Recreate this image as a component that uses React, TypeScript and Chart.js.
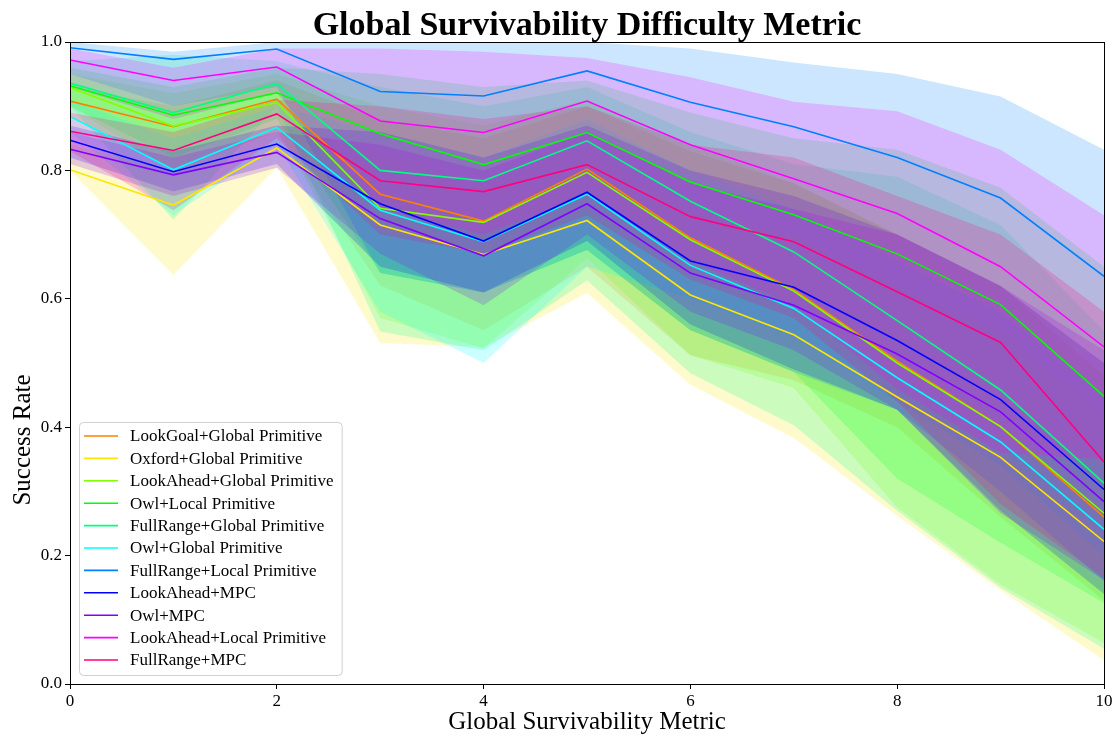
import { useEffect, useRef } from 'react';
import { Chart, registerables } from 'chart.js';

Chart.register(...registerables);

const chartTitle = 'Global Survivability Difficulty Metric';
const xAxisTitle = 'Global Survivability Metric';
const yAxisTitle = 'Success Rate';

const metricLevels = [0, 1, 2, 3, 4, 5, 6, 7, 8, 9, 10];

const methodNames = [
  'LookGoal+Global Primitive',
  'Oxford+Global Primitive',
  'LookAhead+Global Primitive',
  'Owl+Local Primitive',
  'FullRange+Global Primitive',
  'Owl+Global Primitive',
  'FullRange+Local Primitive',
  'LookAhead+MPC',
  'Owl+MPC',
  'LookAhead+Local Primitive',
  'FullRange+MPC',
];

const methodColors = [
  '#ff8000', '#ffe600', '#80ff00', '#00ff00', '#00ff80', '#00ffff',
  '#0080ff', '#0000ff', '#8000ff', '#ff00ff', '#ff0080',
];

// mean success rate and min / max envelope per method
const lookGoalGlobalMean = [0.908, 0.868, 0.911, 0.763, 0.721, 0.802, 0.695, 0.614, 0.503, 0.401, 0.260];
const lookGoalGlobalLow = [0.885, 0.800, 0.860, 0.621, 0.551, 0.650, 0.512, 0.473, 0.400, 0.260, 0.130];
const lookGoalGlobalHigh = [0.930, 0.900, 0.940, 0.880, 0.850, 0.900, 0.830, 0.780, 0.700, 0.620, 0.480];

const oxfordGlobalMean = [0.801, 0.746, 0.835, 0.715, 0.669, 0.722, 0.606, 0.544, 0.447, 0.353, 0.222];
const oxfordGlobalLow = [0.800, 0.637, 0.805, 0.531, 0.525, 0.609, 0.466, 0.383, 0.262, 0.146, 0.037];
const oxfordGlobalHigh = [0.840, 0.800, 0.870, 0.830, 0.780, 0.840, 0.740, 0.700, 0.620, 0.550, 0.420];

const lookAheadGlobalMean = [0.929, 0.869, 0.906, 0.741, 0.719, 0.797, 0.692, 0.612, 0.500, 0.401, 0.266];
const lookAheadGlobalLow = [0.900, 0.800, 0.870, 0.570, 0.523, 0.663, 0.512, 0.461, 0.275, 0.155, 0.064];
const lookAheadGlobalHigh = [0.950, 0.920, 0.950, 0.900, 0.870, 0.910, 0.840, 0.780, 0.700, 0.620, 0.500];

const owlLocalMean = [0.932, 0.886, 0.921, 0.857, 0.809, 0.859, 0.782, 0.731, 0.670, 0.591, 0.448];
const owlLocalLow = [0.900, 0.820, 0.880, 0.640, 0.610, 0.676, 0.551, 0.486, 0.320, 0.220, 0.126];
const owlLocalHigh = [0.960, 0.930, 0.960, 0.950, 0.930, 0.940, 0.890, 0.850, 0.832, 0.773, 0.650];

const fullRangeGlobalMean = [0.936, 0.890, 0.935, 0.800, 0.784, 0.846, 0.752, 0.673, 0.566, 0.458, 0.313];
const fullRangeGlobalLow = [0.900, 0.723, 0.900, 0.549, 0.520, 0.629, 0.484, 0.403, 0.270, 0.150, 0.055];
const fullRangeGlobalHigh = [0.970, 0.980, 0.970, 0.930, 0.900, 0.930, 0.860, 0.810, 0.790, 0.715, 0.550];

const owlGlobalMean = [0.884, 0.801, 0.867, 0.738, 0.689, 0.763, 0.652, 0.585, 0.477, 0.377, 0.241];
const owlGlobalLow = [0.860, 0.730, 0.840, 0.580, 0.500, 0.650, 0.600, 0.540, 0.440, 0.340, 0.200];
const owlGlobalHigh = [0.910, 0.850, 0.900, 0.860, 0.820, 0.880, 0.800, 0.740, 0.660, 0.580, 0.450];

const fullRangeLocalMean = [0.991, 0.973, 0.989, 0.923, 0.916, 0.955, 0.906, 0.868, 0.820, 0.757, 0.635];
const fullRangeLocalLow = [0.950, 0.900, 0.930, 0.640, 0.610, 0.676, 0.551, 0.486, 0.427, 0.300, 0.160];
const fullRangeLocalHigh = [1.000, 0.985, 1.000, 1.000, 1.000, 1.000, 0.990, 0.968, 0.950, 0.915, 0.832];

const lookAheadMpcMean = [0.847, 0.798, 0.841, 0.748, 0.690, 0.766, 0.659, 0.618, 0.535, 0.443, 0.303];
const lookAheadMpcLow = [0.820, 0.767, 0.810, 0.650, 0.610, 0.690, 0.560, 0.490, 0.427, 0.270, 0.140];
const lookAheadMpcHigh = [0.870, 0.830, 0.870, 0.860, 0.820, 0.870, 0.800, 0.760, 0.700, 0.620, 0.500];

const owlMpcMean = [0.833, 0.793, 0.828, 0.725, 0.667, 0.748, 0.640, 0.590, 0.514, 0.424, 0.284];
const owlMpcLow = [0.810, 0.760, 0.804, 0.670, 0.590, 0.700, 0.580, 0.520, 0.427, 0.266, 0.162];
const owlMpcHigh = [0.860, 0.820, 0.860, 0.840, 0.800, 0.860, 0.780, 0.740, 0.700, 0.620, 0.520];

const lookAheadLocalMean = [0.972, 0.940, 0.961, 0.877, 0.859, 0.908, 0.840, 0.787, 0.733, 0.650, 0.525];
const lookAheadLocalLow = [0.930, 0.880, 0.920, 0.740, 0.700, 0.760, 0.660, 0.590, 0.460, 0.360, 0.350];
const lookAheadLocalHigh = [0.990, 0.960, 0.990, 0.990, 0.985, 0.975, 0.945, 0.907, 0.892, 0.832, 0.730];

const fullRangeMpcMean = [0.861, 0.831, 0.888, 0.784, 0.767, 0.809, 0.728, 0.689, 0.611, 0.532, 0.346];
const fullRangeMpcLow = [0.830, 0.738, 0.850, 0.700, 0.670, 0.730, 0.630, 0.570, 0.440, 0.280, 0.165];
const fullRangeMpcHigh = [0.890, 0.860, 0.910, 0.900, 0.880, 0.900, 0.840, 0.820, 0.760, 0.700, 0.580];

const yTicks = [0, 0.2, 0.4, 0.6, 0.8, 1.0];
const xTicks = [0, 2, 4, 6, 8, 10];

const seriesMeans = [
  lookGoalGlobalMean, oxfordGlobalMean, lookAheadGlobalMean, owlLocalMean,
  fullRangeGlobalMean, owlGlobalMean, fullRangeLocalMean, lookAheadMpcMean,
  owlMpcMean, lookAheadLocalMean, fullRangeMpcMean,
];
const seriesLows = [
  lookGoalGlobalLow, oxfordGlobalLow, lookAheadGlobalLow, owlLocalLow,
  fullRangeGlobalLow, owlGlobalLow, fullRangeLocalLow, lookAheadMpcLow,
  owlMpcLow, lookAheadLocalLow, fullRangeMpcLow,
];
const seriesHighs = [
  lookGoalGlobalHigh, oxfordGlobalHigh, lookAheadGlobalHigh, owlLocalHigh,
  fullRangeGlobalHigh, owlGlobalHigh, fullRangeLocalHigh, lookAheadMpcHigh,
  owlMpcHigh, lookAheadLocalHigh, fullRangeMpcHigh,
];

const SERIF = '"Liberation Serif", "Times New Roman", serif';

function withAlpha(hex: string, a: number) {
  const r = parseInt(hex.slice(1, 3), 16);
  const g = parseInt(hex.slice(3, 5), 16);
  const b = parseInt(hex.slice(5, 7), 16);
  return `rgba(${r},${g},${b},${a})`;
}

const toPoints = (ys: number[]) => metricLevels.map((x, i) => ({ x, y: ys[i] }));

// frame, titles and an in-axes legend drawn the way pyplot lays them out
const decorations = {
  id: 'decorations',
  afterDraw(chart: any) {
    const { ctx, chartArea: a } = chart;
    ctx.save();
    ctx.strokeStyle = '#000';
    ctx.lineWidth = 1;
    ctx.strokeRect(a.left + 0.5, a.top + 0.5, a.right - a.left, a.bottom - a.top);

    ctx.fillStyle = '#000';
    ctx.textAlign = 'center';
    ctx.textBaseline = 'alphabetic';
    ctx.font = `bold 34px ${SERIF}`;
    ctx.fillText(chartTitle, (a.left + a.right) / 2, a.top - 7);

    ctx.font = `25px ${SERIF}`;
    ctx.fillText(xAxisTitle, (a.left + a.right) / 2, a.bottom + 45);

    ctx.save();
    ctx.translate(30, 440);
    ctx.rotate(-Math.PI / 2);
    ctx.fillText(yAxisTitle, 0, 0);
    ctx.restore();

    // legend
    ctx.font = `17px ${SERIF}`;
    const rowH = 22.4;
    let maxW = 0;
    methodNames.forEach((n) => { maxW = Math.max(maxW, ctx.measureText(n).width); });
    const boxL = a.left + 9;
    const boxW = 51 + maxW + 8;
    const boxH = rowH * (methodNames.length - 1) + 29;
    const boxT = a.bottom - 9 - boxH;
    ctx.beginPath();
    ctx.roundRect(boxL + 0.5, boxT + 0.5, boxW, boxH, 4);
    ctx.fillStyle = 'rgba(255,255,255,0.8)';
    ctx.fill();
    ctx.strokeStyle = '#d0d0d0';
    ctx.stroke();
    ctx.textAlign = 'left';
    ctx.textBaseline = 'middle';
    methodNames.forEach((n, i) => {
      const y = boxT + 14 + i * rowH;
      ctx.beginPath();
      ctx.moveTo(boxL + 5, y);
      ctx.lineTo(boxL + 39, y);
      ctx.strokeStyle = methodColors[i];
      ctx.lineWidth = 1.6;
      ctx.stroke();
      ctx.fillStyle = '#000';
      ctx.fillText(n, boxL + 51, y + 1);
    });
    ctx.restore();
  },
};

export default function App() {
  const canvasRef = useRef<HTMLCanvasElement | null>(null);

  useEffect(() => {
    const canvas = canvasRef.current;
    if (!canvas) return;

    const datasets: any[] = [];
    // shaded envelopes: low curve followed by high curve filled down to it
    methodNames.forEach((name, k) => {
      datasets.push({
        label: `${name} low`,
        data: toPoints(seriesLows[k]),
        borderColor: 'rgba(0,0,0,0)',
        borderWidth: 0,
        pointRadius: 0,
        fill: false,
        order: 100 - k,
      });
      datasets.push({
        label: `${name} high`,
        data: toPoints(seriesHighs[k]),
        borderColor: 'rgba(0,0,0,0)',
        borderWidth: 0,
        pointRadius: 0,
        backgroundColor: withAlpha(methodColors[k], 0.2),
        fill: { target: '-1', above: withAlpha(methodColors[k], 0.2), below: withAlpha(methodColors[k], 0.2) },
        order: 100 - k,
      });
    });
    // mean curves on top
    methodNames.forEach((name, k) => {
      datasets.push({
        label: name,
        data: toPoints(seriesMeans[k]),
        borderColor: methodColors[k],
        borderWidth: 1.6,
        pointRadius: 0,
        fill: false,
        order: 50 - k,
      });
    });

    const tickFont = { family: SERIF, size: 17 };

    const chart = new Chart(canvas, {
      type: 'line',
      data: { datasets },
      options: {
        responsive: false,
        animation: false,
        events: [],
        devicePixelRatio: 1,
        layout: { padding: { left: 0, right: 15, top: 42, bottom: 0 } },
        plugins: {
          legend: { display: false },
          tooltip: { enabled: false },
          title: { display: false },
        },
        elements: { line: { tension: 0 } },
        scales: {
          x: {
            type: 'linear',
            min: 0,
            max: 10,
            afterFit: (s: any) => { s.height = 54; },
            afterBuildTicks: (s: any) => { s.ticks = xTicks.map((v) => ({ value: v })); },
            ticks: {
              color: '#000',
              font: tickFont,
              padding: 2,
              maxRotation: 0,
              callback: (v: any) => String(v),
            },
            grid: { drawOnChartArea: false, drawTicks: true, tickLength: 5, tickColor: '#000', tickWidth: 1 },
            border: { display: true, color: '#000', width: 1 },
          },
          y: {
            type: 'linear',
            min: 0,
            max: 1,
            afterFit: (s: any) => { s.width = 70; },
            afterBuildTicks: (s: any) => { s.ticks = yTicks.map((v) => ({ value: v })); },
            ticks: {
              color: '#000',
              font: tickFont,
              padding: 3,
              callback: (v: any) => Number(v).toFixed(1),
            },
            grid: { drawOnChartArea: false, drawTicks: true, tickLength: 5, tickColor: '#000', tickWidth: 1 },
            border: { display: true, color: '#000', width: 1 },
          },
        },
      },
      plugins: [decorations],
    });

    return () => chart.destroy();
  }, []);

  return (
    <div style={{ position: 'fixed', left: 0, top: 0, width: 1119, height: 738, background: '#fff' }}>
      <canvas ref={canvasRef} width={1119} height={738} style={{ display: 'block' }} />
    </div>
  );
}
